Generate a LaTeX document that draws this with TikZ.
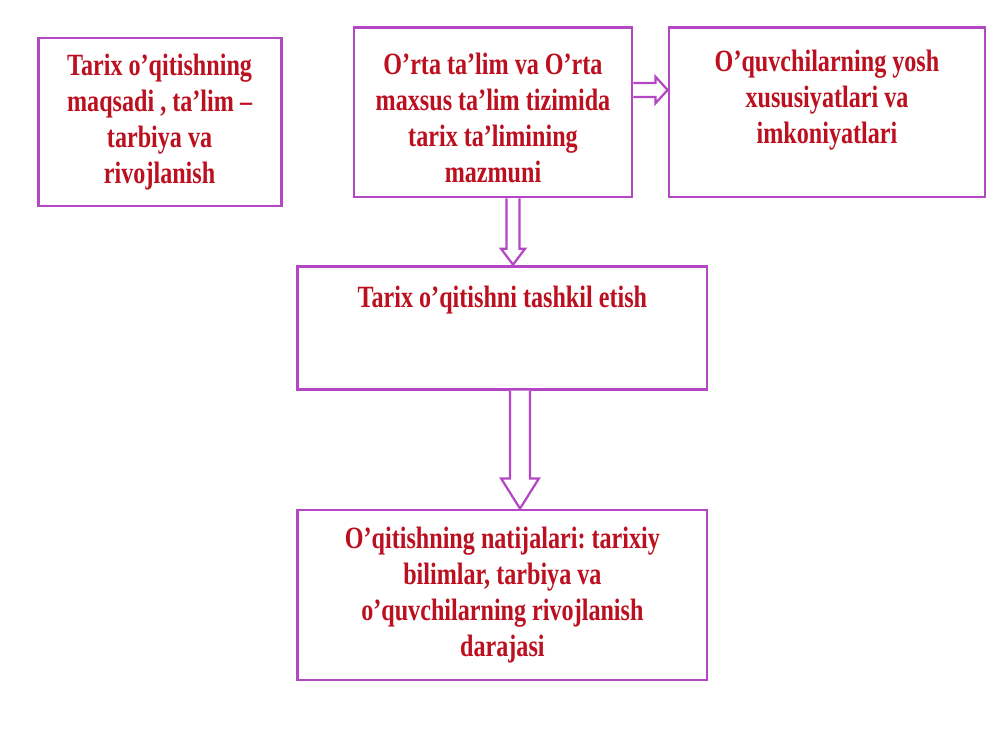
\documentclass[tikz,border=0pt]{standalone}
\usepackage{fontspec}
\setmainfont{Liberation Serif}[FakeStretch=0.78]
\usepackage{tikz}
\usetikzlibrary{positioning,calc}
\frenchspacing
\definecolor{boxpurple}{RGB}{180,72,196}
\definecolor{txtred}{RGB}{188,16,32}
\tikzstyle{box}=[rectangle, draw=boxpurple, line width=2pt, fill=white]
\tikzstyle{txt}=[text=txtred, font=\fontsize{22}{25.6}\selectfont\bfseries, align=center]
\tikzstyle{blockarrow}=[draw=boxpurple, line width=1.6pt, fill=white, line join=miter]
\begin{document}
\begin{tikzpicture}[%
    node distance=0.05cm,
    auto
  ]
      \useasboundingbox (0,0) rectangle (25,-18.75);
      %Boxes
      \draw (3.99,-3.05) node[box, txt, minimum width=6.075cm, minimum height=4.2cm] (A) {Tarix o’qitishning\\maqsadi , ta’lim –\\tarbiya va\\rivojlanish};
      \draw (12.325,-2.81) node[box, minimum width=6.95cm, minimum height=4.225cm] (B) {};
      \draw (20.675,-2.81) node[box, minimum width=7.9cm, minimum height=4.225cm] (C) {};
      \draw (12.56,-8.19) node[box, minimum width=10.225cm, minimum height=3.075cm] (D) {};
      \draw (12.56,-14.875) node[box, txt, minimum width=10.225cm, minimum height=4.25cm] (E) {O’qitishning natijalari: tarixiy\\bilimlar, tarbiya va\\o’quvchilarning rivojlanish\\darajasi};
      \node[txt] (Btext) at ($(B)+(0,-0.13)$) {O’rta ta’lim va O’rta\\maxsus ta’lim tizimida\\tarix ta’limining\\mazmuni};
      \node[txt] (Ctext) at ($(C)+(0,0.3)$) {O’quvchilarning yosh\\xususiyatlari va\\imkoniyatlari};
      \node[txt] (Dtext) at ($(D)+(0,0.69)$) {Tarix o’qitishni tashkil etish};

      %B to C
      \coordinate (bc1) at ($(B.east)+(0,0.56)$);
      \coordinate (bc2) at (bc1 -| C.west);
      \draw[blockarrow] ($(bc1)+(0,0.175)$) -- ($(bc2)+(-0.3,0.175)$) -- ($(bc2)+(-0.3,0.33)$) -- (bc2)
        -- ($(bc2)+(-0.3,-0.33)$) -- ($(bc2)+(-0.3,-0.175)$) -- ($(bc1)+(0,-0.175)$);

      %B to D
      \coordinate (bd1) at ($(B.south)+(0.5,0)$);
      \coordinate (bd2) at (bd1 |- D.north);
      \draw[blockarrow] ($(bd1)+(-0.16,0)$) -- ($(bd2)+(-0.16,0.4)$) -- ($(bd2)+(-0.3,0.4)$) -- (bd2)
        -- ($(bd2)+(0.3,0.4)$) -- ($(bd2)+(0.16,0.4)$) -- ($(bd1)+(0.16,0)$);

      %D to E
      \coordinate (de1) at ($(D.south)+(0.44,0)$);
      \coordinate (de2) at (de1 |- E.north);
      \draw[blockarrow] ($(de1)+(-0.25,0)$) -- ($(de2)+(-0.25,0.75)$) -- ($(de2)+(-0.47,0.75)$) -- (de2)
        -- ($(de2)+(0.47,0.75)$) -- ($(de2)+(0.25,0.75)$) -- ($(de1)+(0.25,0)$);
\end{tikzpicture}
\end{document}
